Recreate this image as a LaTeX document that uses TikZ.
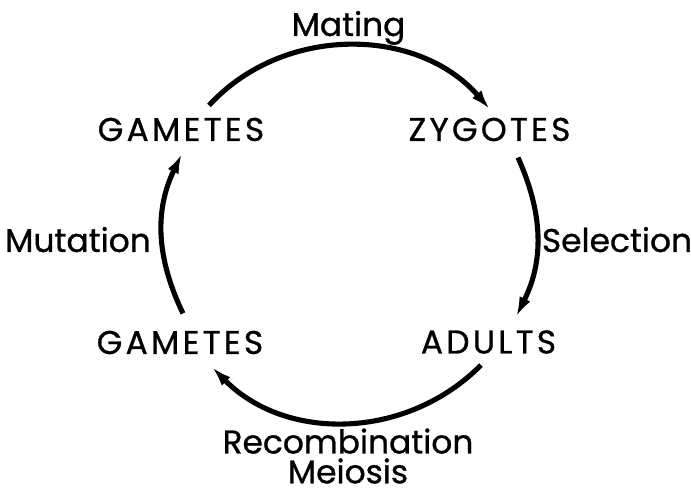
\documentclass[tikz,border=0pt]{standalone}
\usepackage{fontspec}
\setmainfont{Poppins}
\newfontfamily\stagefont{Poppins}[LetterSpace=10,FakeBold=0.8]
\newfontfamily\processfont{Poppins}[FakeBold=0.8]
\usetikzlibrary{arrows.meta}

\begin{document}
\begin{tikzpicture}[x=0.02cm,y=0.02cm,
  stage/.style={font=\stagefont\fontsize{18.7}{22}\selectfont, inner sep=0pt},
  process/.style={font=\processfont\fontsize{18.7}{17}\selectfont, inner sep=0pt, anchor=base},
  cyclearc/.style={line width=2.9pt, -{Latex[length=0.4cm,width=0.24cm]}}]
  \useasboundingbox (0,0) rectangle (691,492);

  % Stages of the cycle
  \node[stage] (gamTop) at (181,362.5) {GAMETES};
  \node[stage] (zyg) at (489.5,362.5) {ZYGOTES};
  \node[stage] (adu) at (488.5,150) {ADULTS};
  \node[stage] (gamBot) at (180,149.5) {GAMETES};

  % Processes
  \node[process] (mating) at (348.5,456) {Mating};
  \node[process] (selection) at (617,240) {Selection};
  \node[process] (mutation) at (78,240) {Mutation};
  \node[process, anchor=south, align=center] (recomb) at (348,8) {Recombination\\Meiosis};

  % Arcs between the stages
  \draw[cyclearc] ([shift={(28,12)}]gamTop.north) to[out=47.5,in=131] ([shift={(0.5,8)}]zyg.north);
  \draw[cyclearc] ([shift={(28.5,-16)}]zyg.south) to[out=-65.8,in=63.6] ([shift={(27.5,13)}]adu.north);
  \draw[cyclearc] ([shift={(-7.5,-11)}]adu.south) to[out=-134.7,in=-45.5] ([shift={(32,-12.5)}]gamBot.south);
  \draw[cyclearc] ([shift={(3,17)}]gamBot.north) to[out=115.7,in=-115.9] ([shift={(1,-12)}]gamTop.south);
\end{tikzpicture}
\end{document}
